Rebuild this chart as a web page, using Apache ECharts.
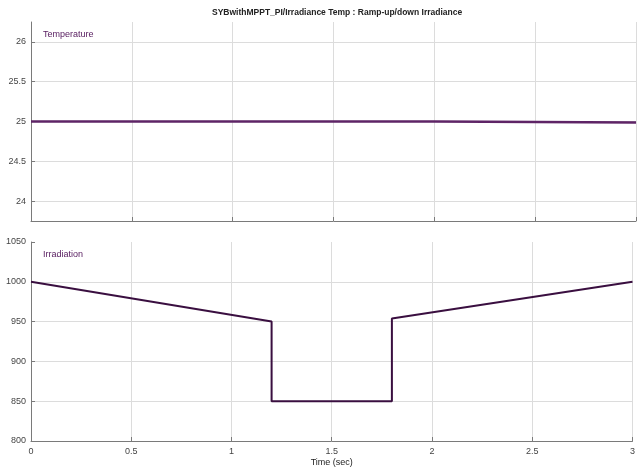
<!DOCTYPE html>
<html>
<head>
<meta charset="utf-8">
<script src="https://cdn.jsdelivr.net/npm/echarts@6/dist/echarts.min.js"></script>
<style>
  html, body { margin: 0; padding: 0; background: #fff; }
  #chart { width: 638px; height: 468px; }
</style>
</head>
<body>
<div id="chart"></div>
<script>
// time axis (sec) and signals
const tempTime = [0, 2, 2, 3]
const tempValues = [25, 25, 24.988, 24.988]
const irrTime = [0, 1.2, 1.2, 1.8, 1.8, 3]
const irrValues = [1000, 950, 850, 850, 954, 1000]

const GRID_COLOR = '#dcdcdc'
const AXIS_COLOR = '#7a7a7a'
const LABEL = { fontSize: 9, color: '#444', fontFamily: 'Liberation Sans, Arial, sans-serif' }

const chart = echarts.init(document.getElementById('chart'))

function xAxis(gridIndex, showLabels) {
  return {
    type: 'value', gridIndex, min: 0, max: 3, interval: 0.5,
    axisLine: { show: true, onZero: false, lineStyle: { color: AXIS_COLOR, width: 1 } },
    axisTick: { show: true, inside: true, length: 4, lineStyle: { color: AXIS_COLOR } },
    axisLabel: showLabels ? { ...LABEL, margin: 6, formatter: v => String(v) } : { show: false },
    splitLine: { show: true, lineStyle: { color: GRID_COLOR, width: 1 } },
    name: showLabels ? 'Time (sec)' : '',
    nameLocation: 'middle', nameGap: 17,
    nameTextStyle: { ...LABEL, color: '#222' }
  }
}

chart.setOption({
  animation: false,
  title: [
    {
      text: 'SYBwithMPPT_PI/Irradiance Temp : Ramp-up/down Irradiance',
      left: 207, top: 3,
      textStyle: { fontSize: 8.5, fontWeight: 'bold', color: '#222', fontFamily: 'Liberation Sans, Arial, sans-serif' }
    },
    { text: 'Temperature', left: 38, top: 25, textStyle: { ...LABEL, color: '#5a2062', fontWeight: 'normal' } },
    { text: 'Irradiation', left: 38, top: 245, textStyle: { ...LABEL, color: '#5a2062', fontWeight: 'normal' } }
  ],
  grid: [
    { left: 31, right: 2, top: 22, height: 199 },
    { left: 31, right: 2, top: 242, height: 200 }
  ],
  xAxis: [xAxis(0, false), xAxis(1, true)],
  yAxis: [
    {
      type: 'value', gridIndex: 0, min: 23.75, max: 26.25, splitNumber: 5,
      axisLine: { show: true, lineStyle: { color: AXIS_COLOR } },
      axisTick: { show: true, inside: true, length: 4, lineStyle: { color: AXIS_COLOR } },
      axisLabel: {
        ...LABEL, margin: 5, showMinLabel: false, showMaxLabel: false,
        formatter: v => (Math.abs(v * 2 - Math.round(v * 2)) < 1e-6 ? String(v) : '')
      },
      splitLine: { show: true, showMinLine: false, showMaxLine: false, lineStyle: { color: GRID_COLOR } }
    },
    {
      type: 'value', gridIndex: 1, min: 800, max: 1050, interval: 50,
      axisLine: { show: true, lineStyle: { color: AXIS_COLOR } },
      axisTick: { show: true, inside: true, length: 4, lineStyle: { color: AXIS_COLOR } },
      axisLabel: { ...LABEL, margin: 5, formatter: v => String(v) },
      splitLine: { show: true, showMinLine: false, showMaxLine: false, lineStyle: { color: GRID_COLOR } }
    }
  ],
  series: [
    {
      name: 'Temperature', type: 'line', xAxisIndex: 0, yAxisIndex: 0,
      data: tempTime.map((t, i) => [t, tempValues[i]]),
      showSymbol: false, lineStyle: { color: '#5e2466', width: 2.5 }
    },
    {
      name: 'Irradiation', type: 'line', xAxisIndex: 1, yAxisIndex: 1,
      data: irrTime.map((t, i) => [t, irrValues[i]]),
      showSymbol: false, lineStyle: { color: '#3a0f40', width: 2 }
    }
  ]
})
</script>
</body>
</html>
